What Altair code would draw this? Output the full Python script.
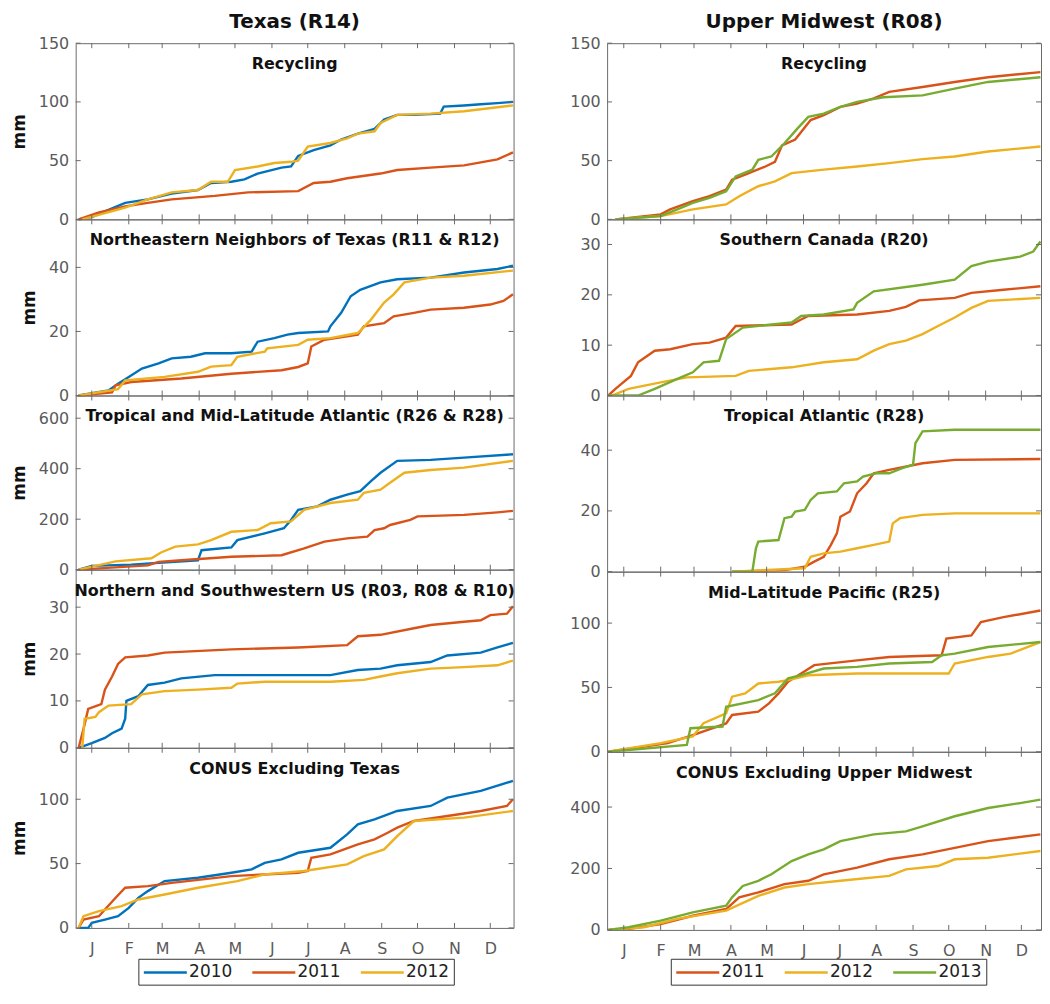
import altair as alt
import pandas as pd

FONT = "DejaVu Sans"
LABEL_GRAY = "#5a5a5a"
FRAME = "#6a6a6a"
INK = "#111111"

MONTH_DAYS = [15, 46, 74, 105, 135, 166, 196, 227, 258, 288, 319, 349]
MONTH_LABELS = ["J", "F", "M", "A", "M", "J", "J", "A", "S", "O", "N", "D"]

TX_YEARS = ["2010", "2011", "2012"]
UM_YEARS = ["2011", "2012", "2013"]
TX_COLORS = ["#0072BD", "#D95319", "#EDB120"]
UM_COLORS = ["#D95319", "#EDB120", "#77AC30"]

TX_TITLES = ["Recycling", "Northeastern Neighbors of Texas (R11 & R12)",
             "Tropical and Mid-Latitude Atlantic (R26 & R28)",
             "Northern and Southwestern US (R03, R08 & R10)", "CONUS Excluding Texas"]
UM_TITLES = ["Recycling", "Southern Canada (R20)", "Tropical Atlantic (R28)",
             "Mid-Latitude Pacific (R25)", "CONUS Excluding Upper Midwest"]

TX_YMAX = [150, 55, 690, 38, 140]
UM_YMAX = [150, 35, 58, 140, 580]
TX_YTICKS = [[0, 50, 100, 150], [0, 20, 40], [0, 200, 400, 600], [0, 10, 20, 30], [0, 50, 100]]
UM_YTICKS = [[0, 50, 100, 150], [0, 10, 20, 30], [0, 20, 40], [0, 50, 100], [0, 200, 400]]

# ---------------- Texas (R14) ----------------
TX1_2010_DAY = [4, 15, 29, 43, 62, 82, 104, 115, 132, 143, 154, 174, 182, 188, 201, 215, 224, 238, 252, 260, 271, 285, 307, 310, 327, 341, 355, 368]
TX1_2010_MM = [0, 2, 8, 14, 17, 22, 25, 31, 32, 34, 39, 44, 45, 54, 59, 63, 68, 73, 77, 85, 89, 89, 90, 96, 97, 98, 99, 100]
TX1_2011_DAY = [4, 21, 43, 62, 82, 118, 146, 188, 201, 215, 229, 257, 271, 299, 327, 355, 368]
TX1_2011_MM = [0, 6, 11, 14, 17, 20, 23, 24, 31, 32, 35, 39, 42, 44, 46, 51, 57]
TX1_2012_DAY = [7, 43, 62, 82, 104, 115, 129, 135, 154, 168, 182, 188, 196, 215, 229, 238, 252, 257, 271, 299, 327, 368]
TX1_2012_MM = [0, 10, 17, 23, 25, 32, 32, 42, 45, 48, 49, 50, 62, 65, 69, 73, 75, 82, 89, 90, 92, 97]

TX2_2010_DAY = [4, 29, 37, 46, 57, 71, 82, 98, 110, 132, 149, 154, 168, 179, 188, 213, 215, 224, 232, 240, 257, 271, 299, 327, 355, 368]
TX2_2010_MM = [0, 1.6, 3.7, 5.8, 8.4, 10, 11.6, 12.1, 13.2, 13.2, 13.7, 16.8, 17.9, 19, 19.5, 20, 21.6, 25.8, 31, 33, 35.3, 36.3, 36.8, 38.4, 39.5, 40.5]
TX2_2011_DAY = [4, 32, 35, 48, 90, 132, 174, 188, 196, 199, 210, 238, 243, 260, 268, 285, 299, 327, 349, 360, 368]
TX2_2011_MM = [0, 1, 3.2, 4.2, 5.3, 6.8, 7.9, 8.9, 10, 15.3, 17.4, 19, 21.6, 22.6, 24.7, 25.8, 26.8, 27.4, 28.4, 29.5, 31.6]
TX2_2012_DAY = [4, 37, 43, 76, 104, 115, 132, 137, 160, 162, 188, 196, 215, 238, 249, 260, 268, 277, 299, 327, 368]
TX2_2012_MM = [0, 2, 4.7, 5.8, 7.4, 9, 9.5, 12.1, 13.7, 14.7, 15.8, 17.4, 17.9, 19.5, 23.7, 29, 31.6, 35.3, 36.8, 37.4, 39]

TX3_2010_DAY = [4, 15, 48, 104, 107, 132, 137, 160, 176, 182, 188, 204, 215, 229, 240, 249, 257, 271, 299, 327, 368]
TX3_2010_MM = [0, 15, 20, 37, 77, 88, 117, 144, 164, 197, 237, 251, 277, 297, 311, 351, 384, 431, 435, 444, 457]
TX3_2011_DAY = [4, 62, 71, 90, 132, 174, 193, 210, 229, 246, 252, 260, 265, 282, 288, 327, 355, 368]
TX3_2011_MM = [0, 17, 31, 37, 51, 57, 84, 111, 124, 131, 157, 164, 177, 197, 211, 217, 227, 233]
TX3_2012_DAY = [4, 35, 65, 73, 85, 104, 115, 132, 154, 165, 182, 193, 215, 238, 243, 257, 265, 277, 299, 327, 368]
TX3_2012_MM = [0, 33, 45, 68, 91, 100, 117, 150, 157, 184, 191, 237, 264, 277, 304, 317, 344, 384, 395, 404, 431]

TX4_2010_DAY = [4, 15, 26, 32, 40, 43, 44, 54, 62, 76, 90, 118, 215, 238, 257, 271, 299, 313, 341, 355, 368]
TX4_2010_MM = [0, 1, 2.1, 3.1, 4.1, 6.2, 10, 11, 13.4, 13.9, 14.8, 15.5, 15.5, 16.6, 16.9, 17.6, 18.3, 19.7, 20.3, 21.4, 22.4]
TX4_2011_DAY = [4, 9, 12, 23, 26, 32, 37, 43, 62, 76, 132, 188, 229, 238, 257, 285, 299, 327, 341, 349, 363, 368]
TX4_2011_MM = [0, 5, 8.3, 9.3, 12.4, 15.2, 17.9, 19.3, 19.7, 20.3, 21, 21.4, 21.9, 23.8, 24.1, 25.5, 26.2, 26.9, 27.2, 28.3, 28.6, 30.2]
TX4_2012_DAY = [7, 9, 18, 21, 29, 48, 57, 76, 104, 132, 137, 160, 215, 243, 257, 271, 299, 327, 355, 368]
TX4_2012_MM = [0, 6.2, 6.6, 7.6, 9, 9.3, 11.4, 12.1, 12.4, 12.8, 13.7, 14.1, 14.1, 14.5, 15.2, 15.9, 16.9, 17.2, 17.6, 18.6]

TX5_2010_DAY = [4, 12, 15, 26, 37, 46, 54, 62, 76, 104, 132, 149, 160, 174, 188, 215, 229, 238, 252, 271, 299, 313, 341, 368]
TX5_2010_MM = [0, 0, 3.9, 6.5, 9.1, 15.6, 23.4, 28.6, 36.4, 39, 42.9, 45.5, 50.6, 53.2, 58.4, 62.3, 72.7, 80.5, 84.4, 90.9, 94.8, 101.3, 106.5, 114.3]
TX5_2011_DAY = [4, 8, 21, 26, 35, 43, 62, 82, 132, 188, 196, 199, 215, 238, 252, 263, 271, 285, 313, 341, 363, 368]
TX5_2011_MM = [0, 6.5, 9.1, 14.3, 23.4, 31.2, 32.5, 35, 40.3, 42.9, 44.2, 54.5, 57.1, 64.9, 68.8, 74, 77.9, 83.1, 87, 90.9, 94.8, 100]
TX5_2012_DAY = [4, 8, 21, 40, 54, 76, 104, 137, 160, 193, 229, 243, 260, 271, 285, 327, 368]
TX5_2012_MM = [0, 9.1, 13, 16.9, 22.1, 26, 31.2, 36.4, 41.6, 44.2, 49.4, 55.8, 61, 71.4, 83.1, 85.7, 90.9]

# ---------------- Upper Midwest (R08) ----------------
UM1_2011_DAY = [8, 46, 54, 73, 87, 101, 106, 117, 134, 142, 148, 159, 172, 183, 197, 211, 225, 238, 266, 293, 321, 365]
UM1_2011_MM = [0, 4.2, 8.5, 15.5, 19.7, 25.4, 33.8, 38, 45, 49, 63, 68, 84.5, 88.7, 95.8, 98.6, 103, 108.5, 112.7, 117, 121, 125.4]
UM1_2012_DAY = [8, 46, 73, 101, 112, 128, 142, 156, 183, 211, 238, 266, 293, 321, 365]
UM1_2012_MM = [0, 2.8, 8.5, 12.7, 19.7, 28.2, 32.4, 39.4, 42.3, 45, 47.9, 51.3, 53.5, 57.8, 62]
UM1_2013_DAY = [8, 46, 60, 73, 87, 101, 109, 123, 128, 139, 150, 161, 170, 183, 197, 211, 233, 266, 293, 321, 365]
UM1_2013_MM = [0, 2.8, 8.5, 14, 18.3, 24, 36.6, 42.3, 50.7, 53.5, 64.8, 77.5, 87.3, 90, 95.8, 100, 104, 105.6, 111.3, 117, 121]

UM2_2011_DAY = [2, 8, 13, 21, 27, 41, 54, 73, 87, 101, 109, 156, 164, 170, 211, 238, 252, 263, 293, 307, 334, 365]
UM2_2011_MM = [0, 1.3, 2.3, 3.9, 6.6, 8.9, 9.2, 10.2, 10.5, 11.5, 13.8, 14.1, 15.1, 15.8, 16.1, 16.8, 17.6, 18.9, 19.4, 20.4, 21, 21.7]
UM2_2012_DAY = [5, 19, 46, 68, 109, 120, 156, 183, 211, 225, 238, 252, 266, 279, 293, 307, 321, 365]
UM2_2012_MM = [0, 1.3, 2.6, 3.6, 3.9, 4.9, 5.6, 6.6, 7.2, 8.9, 10.2, 10.9, 12.2, 13.8, 15.5, 17.4, 18.8, 19.4]
UM2_2013_DAY = [2, 27, 41, 60, 73, 82, 95, 101, 115, 156, 164, 183, 208, 211, 225, 266, 293, 307, 321, 348, 359, 365]
UM2_2013_MM = [0, 0, 1.3, 3.3, 4.6, 6.6, 6.9, 11.2, 13.5, 14.5, 15.8, 16.1, 17.1, 18.4, 20.7, 22, 23, 25.7, 26.6, 27.6, 28.6, 30.6]

UM3_2011_DAY = [106, 150, 167, 175, 183, 189, 194, 197, 205, 211, 219, 225, 238, 266, 293, 365]
UM3_2011_MM = [0, 0.5, 1.6, 3.3, 4.9, 8.8, 12.6, 18.1, 19.8, 25.8, 29.1, 32.4, 33.5, 35.7, 36.8, 37.1]
UM3_2012_DAY = [106, 167, 172, 183, 197, 211, 225, 238, 241, 247, 266, 293, 365]
UM3_2012_MM = [0, 1.1, 4.9, 6, 6.6, 7.7, 8.8, 9.9, 15.9, 17.6, 18.7, 19.2, 19.2]
UM3_2013_DAY = [106, 123, 126, 128, 145, 150, 156, 159, 167, 172, 178, 194, 200, 211, 216, 227, 238, 249, 258, 260, 266, 293, 365]
UM3_2013_MM = [0, 0, 7.7, 9.9, 10.4, 17.6, 18.1, 19.8, 20.3, 23.6, 25.8, 26.4, 29.1, 29.7, 31.3, 32.4, 32.4, 34.1, 35.2, 42.3, 46.2, 46.7, 46.7]

UM4_2011_DAY = [2, 52, 73, 101, 106, 128, 137, 145, 153, 164, 175, 211, 238, 282, 286, 307, 315, 334, 365]
UM4_2011_MM = [0, 6.7, 13, 22, 28.6, 31.2, 37.6, 45.4, 54.4, 60.8, 67.3, 71, 73.7, 75, 87.9, 90.5, 100.8, 104.6, 109.8]
UM4_2012_DAY = [2, 46, 73, 82, 101, 106, 117, 128, 145, 153, 170, 211, 288, 293, 321, 340, 365]
UM4_2012_MM = [0, 6.7, 11.9, 22.2, 29.9, 42.8, 45.4, 53.1, 54.4, 55.7, 59.5, 60.8, 60.8, 68.6, 73.7, 76.3, 85.3]
UM4_2013_DAY = [2, 68, 71, 98, 101, 128, 142, 153, 164, 183, 211, 238, 274, 282, 293, 321, 365]
UM4_2013_MM = [0, 5.4, 18.3, 19.6, 35, 40.2, 45.4, 57, 59.5, 64.7, 66, 68.6, 69.8, 75, 76.3, 81.4, 85.3]

UM5_2011_DAY = [2, 19, 46, 73, 101, 112, 128, 150, 170, 183, 211, 238, 266, 293, 321, 365]
UM5_2011_MM = [0, 3, 19, 46, 68, 106, 122, 149, 160, 181, 203, 230, 246, 267, 289, 311]
UM5_2012_DAY = [2, 32, 60, 101, 128, 150, 170, 197, 238, 252, 279, 293, 321, 365]
UM5_2012_MM = [0, 8.6, 36, 63, 111, 138, 149, 160, 176, 197, 208, 230, 235, 257]
UM5_2013_DAY = [2, 19, 46, 73, 101, 106, 115, 128, 139, 156, 170, 183, 197, 225, 252, 266, 293, 321, 348, 365]
UM5_2013_MM = [0, 8.6, 30, 57, 79, 106, 143, 160, 181, 224, 246, 262, 289, 311, 321, 337, 370, 397, 413, 424]

TX_DATA = [
    [(TX1_2010_DAY, TX1_2010_MM), (TX1_2011_DAY, TX1_2011_MM), (TX1_2012_DAY, TX1_2012_MM)],
    [(TX2_2010_DAY, TX2_2010_MM), (TX2_2011_DAY, TX2_2011_MM), (TX2_2012_DAY, TX2_2012_MM)],
    [(TX3_2010_DAY, TX3_2010_MM), (TX3_2011_DAY, TX3_2011_MM), (TX3_2012_DAY, TX3_2012_MM)],
    [(TX4_2010_DAY, TX4_2010_MM), (TX4_2011_DAY, TX4_2011_MM), (TX4_2012_DAY, TX4_2012_MM)],
    [(TX5_2010_DAY, TX5_2010_MM), (TX5_2011_DAY, TX5_2011_MM), (TX5_2012_DAY, TX5_2012_MM)],
]
UM_DATA = [
    [(UM1_2011_DAY, UM1_2011_MM), (UM1_2012_DAY, UM1_2012_MM), (UM1_2013_DAY, UM1_2013_MM)],
    [(UM2_2011_DAY, UM2_2011_MM), (UM2_2012_DAY, UM2_2012_MM), (UM2_2013_DAY, UM2_2013_MM)],
    [(UM3_2011_DAY, UM3_2011_MM), (UM3_2012_DAY, UM3_2012_MM), (UM3_2013_DAY, UM3_2013_MM)],
    [(UM4_2011_DAY, UM4_2011_MM), (UM4_2012_DAY, UM4_2012_MM), (UM4_2013_DAY, UM4_2013_MM)],
    [(UM5_2011_DAY, UM5_2011_MM), (UM5_2012_DAY, UM5_2012_MM), (UM5_2013_DAY, UM5_2013_MM)],
]

# layout constants
TX_W, UM_W = 440, 436
TX_H = [177, 177, 175, 179, 181]
UM_H = [177, 177, 177, 181, 179]
TX_XDOM = [1.5, 368.5]
UM_XDOM = [1.0, 365.5]
TICK = 5
LEGEND_LINE = "M-1,0H4.4"

MONTH_EXPR = "''"
for d, lab in reversed(list(zip(MONTH_DAYS, MONTH_LABELS))):
    MONTH_EXPR = f"datum.value == {d} ? '{lab}' : ({MONTH_EXPR})"


def make_panel(title, series, years, colors, ymax, yticks, h, w, xdom,
               bottom, ytitle, col_title, clip, legend_x, legend_dy):
    rows = []
    for yr, (days, vals) in zip(years, series):
        for d, v in zip(days, vals):
            rows.append({"year": yr, "day": d, "mm": v})
    df = pd.DataFrame(rows)
    xs = alt.Scale(domain=xdom, nice=False, zero=False)
    ys = alt.Scale(domain=[0, ymax], nice=False, zero=False)

    if bottom:
        xaxis = alt.Axis(values=MONTH_DAYS, labelExpr=MONTH_EXPR, ticks=False, domain=False,
                         grid=False, labelFont=FONT, labelFontSize=16, labelColor=LABEL_GRAY,
                         labelPadding=13, title=None)
        legend = alt.Legend(orient="none", legendX=legend_x, legendY=h + legend_dy,
                            direction="horizontal", title=None, symbolType=LEGEND_LINE,
                            symbolStrokeWidth=2.5, symbolSize=256, labelFont=FONT,
                            labelFontSize=17, labelColor="#222222", strokeColor="#333333",
                            fillColor="white", padding=4, columnPadding=14, labelOffset=28)
    else:
        xaxis = None
        legend = None

    yaxis = alt.Axis(values=yticks, ticks=False, domain=False, grid=False, labelFont=FONT,
                     labelFontSize=16, labelColor=LABEL_GRAY, labelPadding=7,
                     title="mm" if ytitle else None, titleFont=FONT, titleFontSize=17,
                     titleFontWeight="bold", titleColor=INK, titlePadding=10)

    lines = alt.Chart(df).mark_line(strokeWidth=2.4, clip=clip).encode(
        x=alt.X("day:Q", scale=xs, axis=xaxis),
        y=alt.Y("mm:Q", scale=ys, axis=yaxis),
        color=alt.Color("year:N", scale=alt.Scale(domain=years, range=colors), legend=legend),
    )

    ytdf = pd.DataFrame({"v": yticks})
    xtdf = pd.DataFrame({"d": MONTH_DAYS})
    rule = dict(color=FRAME, strokeWidth=1)
    yl = alt.Chart(ytdf).mark_rule(**rule).encode(
        y=alt.Y("v:Q", scale=ys, axis=yaxis), x=alt.value(0), x2=alt.value(TICK))
    yr = alt.Chart(ytdf).mark_rule(**rule).encode(
        y=alt.Y("v:Q", scale=ys, axis=yaxis), x=alt.value(w - TICK), x2=alt.value(w))
    xb = alt.Chart(xtdf).mark_rule(**rule).encode(
        x=alt.X("d:Q", scale=xs, axis=xaxis), y=alt.value(h - TICK), y2=alt.value(h))
    xt = alt.Chart(xtdf).mark_rule(**rule).encode(
        x=alt.X("d:Q", scale=xs, axis=xaxis), y=alt.value(0), y2=alt.value(TICK))

    txt = alt.Chart(pd.DataFrame({"t": [title]})).mark_text(
        font=FONT, fontSize=16, fontWeight="bold", color=INK, align="center", baseline="middle"
    ).encode(text="t:N", x=alt.value(w / 2), y=alt.value(21))

    layer = alt.layer(lines, xb, xt, yl, yr, txt).properties(width=w, height=h)
    if col_title:
        layer = layer.properties(title=alt.Title(col_title, font=FONT, fontSize=20, fontWeight="bold",
                                                 color=INK, anchor="middle", frame="group", offset=3))
    return layer


tx_panels = []
um_panels = []
for i in range(5):
    tx_panels.append(make_panel(TX_TITLES[i], TX_DATA[i], TX_YEARS, TX_COLORS, TX_YMAX[i],
                                TX_YTICKS[i], TX_H[i], TX_W, TX_XDOM, i == 4, True,
                                "Texas (R14)" if i == 0 else None, False, 63, 31))
    um_panels.append(make_panel(UM_TITLES[i], UM_DATA[i], UM_YEARS, UM_COLORS, UM_YMAX[i],
                                UM_YTICKS[i], UM_H[i], UM_W, UM_XDOM, i == 4, False,
                                "Upper Midwest (R08)" if i == 0 else None, True, 64, 29))

left = alt.vconcat(*tx_panels, spacing=0, bounds="flush").resolve_scale(color="independent")
right = alt.vconcat(*um_panels, spacing=0, bounds="flush").resolve_scale(color="independent")

chart = alt.hconcat(left, right, spacing=50).resolve_scale(color="independent").properties(
    padding={"left": 1, "top": 1, "right": 0, "bottom": 0},
    background="white",
).configure_view(stroke=FRAME, strokeWidth=1)

chart.save("out.html", embed_options={"renderer": "svg", "actions": False})
